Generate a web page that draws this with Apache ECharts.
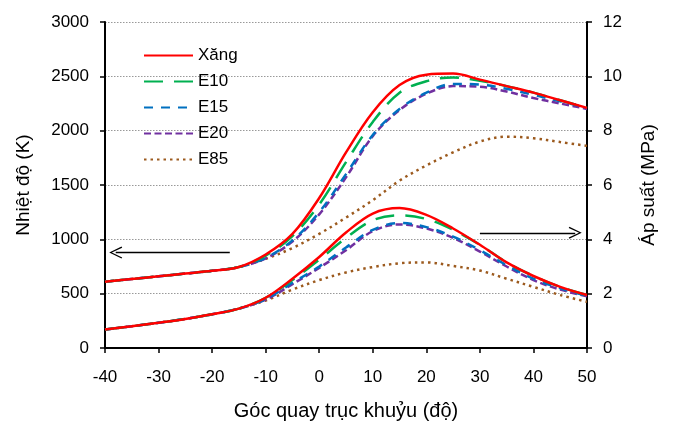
<!DOCTYPE html>
<html>
<head>
<meta charset="utf-8">
<script src="https://cdn.jsdelivr.net/npm/echarts@6/dist/echarts.min.js"></script>
<style>
  html, body { margin: 0; padding: 0; background: #fff; }
  #chart { width: 674px; height: 426px; }
</style>
</head>
<body>
<div id="chart"></div>
<script>
// crank angle (deg)
const angles = [-40, -35, -30, -25, -20, -15, -10, -5, 0, 5, 10, 15, 20, 25, 30, 35, 40, 45, 50];
const names = ['Xăng', 'E10', 'E15', 'E20', 'E85'];

// temperature (K)
const tXang = [610, 635, 660, 685, 710, 745, 860, 1050, 1380, 1800, 2170, 2420, 2515, 2525, 2470, 2410, 2350, 2280, 2210];
const tE10  = [610, 635, 660, 685, 710, 745, 850, 1030, 1320, 1710, 2080, 2350, 2455, 2490, 2460, 2410, 2350, 2280, 2210];
const tE15  = [610, 635, 660, 685, 710, 745, 830, 990, 1250, 1600, 1960, 2200, 2350, 2430, 2425, 2385, 2330, 2270, 2210];
const tE20  = [610, 635, 660, 685, 710, 745, 825, 980, 1230, 1570, 1950, 2190, 2340, 2410, 2405, 2360, 2300, 2250, 2200];
const tE85  = [610, 635, 660, 685, 710, 745, 820, 920, 1050, 1200, 1360, 1540, 1680, 1800, 1900, 1945, 1930, 1895, 1860];

// pressure (MPa)
const pXang = [0.68, 0.8, 0.93, 1.07, 1.24, 1.45, 1.85, 2.55, 3.35, 4.25, 4.95, 5.15, 4.9, 4.4, 3.8, 3.15, 2.65, 2.25, 1.95];
const pE10  = [0.68, 0.8, 0.93, 1.07, 1.24, 1.45, 1.85, 2.5, 3.25, 4.05, 4.7, 4.88, 4.75, 4.35, 3.8, 3.15, 2.65, 2.25, 1.95];
const pE15  = [0.68, 0.8, 0.93, 1.07, 1.24, 1.45, 1.8, 2.4, 3.0, 3.7, 4.35, 4.6, 4.45, 4.1, 3.6, 3.05, 2.55, 2.2, 1.92];
const pE20  = [0.68, 0.8, 0.93, 1.07, 1.24, 1.45, 1.78, 2.35, 2.95, 3.6, 4.3, 4.55, 4.4, 4.05, 3.55, 3.0, 2.5, 2.15, 1.9];
const pE85  = [0.68, 0.8, 0.93, 1.07, 1.24, 1.45, 1.75, 2.15, 2.5, 2.78, 2.98, 3.12, 3.15, 3.02, 2.85, 2.55, 2.25, 1.95, 1.7];

const xTicks = [-40, 50, 10];
const tTicks = [0, 3000, 500];
const pTicks = [0, 12, 2];

const colors = ['#ff0000', '#00b050', '#0070c0', '#7030a0', '#9c5a1e'];
const dashes = ['solid', [19, 11], [9, 8], [7, 3.5], [2.5, 4]];
const font = 'Liberation Sans, Arial, sans-serif';

const tempData = [tXang, tE10, tE15, tE20, tE85];
const presData = [pXang, pE10, pE15, pE20, pE85];

function pairs(vals) {
  return angles.map((a, i) => [a, vals[i]]);
}

function makeSeries(vals, i, axis) {
  return {
    name: names[i],
    type: 'line',
    yAxisIndex: axis,
    data: pairs(vals),
    smooth: 0.35,
    symbol: 'none',
    lineStyle: { color: colors[i], width: 2.5, type: dashes[i] },
    itemStyle: { color: colors[i] },
    z: 10 - i
  };
}

const chevron = 'path://M5,0 L10,11 L9,11.6 L5,2.4 L1,11.6 L0,11 Z';
const arrowStyle = {
  silent: true,
  symbol: ['none', chevron],
  symbolSize: [12, 13],
  label: { show: false },
  lineStyle: { color: '#000', width: 1.3, type: 'solid' }
};

let series = [];
tempData.forEach((v, i) => series.push(makeSeries(v, i, 0)));
presData.forEach((v, i) => series.push(makeSeries(v, i, 1)));

// arrows pointing to the axes
series[0].markLine = Object.assign({}, arrowStyle, {
  data: [[{ coord: [-16.7, 878] }, { coord: [-38, 878] }]]
});
series[5].markLine = Object.assign({}, arrowStyle, {
  data: [[{ coord: [30, 4.24] }, { coord: [47.8, 4.24] }]]
});

const plain = v => String(v);

const chart = echarts.init(document.getElementById('chart'));
chart.setOption({
  animation: false,
  textStyle: { fontFamily: font, color: '#000' },
  grid: { left: 105, right: 87, top: 22, bottom: 76 },
  legend: {
    data: names,
    orient: 'vertical',
    left: 138,
    top: 42,
    itemWidth: 49,
    itemHeight: 14,
    itemGap: 9,
    itemStyle: { opacity: 0 },
    textStyle: { fontSize: 17, color: '#000', fontFamily: font }
  },
  xAxis: {
    type: 'value',
    min: xTicks[0], max: xTicks[1], interval: xTicks[2],
    name: 'Góc quay trục khuỷu (độ)',
    nameLocation: 'middle',
    nameGap: 53,
    nameTextStyle: { fontSize: 20, color: '#000' },
    axisLine: { onZero: false, lineStyle: { color: '#000', width: 2 } },
    axisTick: { lineStyle: { color: '#000', width: 1.5 }, length: 5 },
    axisLabel: { fontSize: 17, color: '#000', margin: 21, formatter: plain },
    splitLine: { show: false }
  },
  yAxis: [{
    type: 'value',
    min: tTicks[0], max: tTicks[1], interval: tTicks[2],
    name: 'Nhiệt độ (K)',
    nameLocation: 'middle',
    nameRotate: 90,
    nameGap: 72,
    nameTextStyle: { fontSize: 19, color: '#000' },
    axisLine: { show: true, onZero: false, lineStyle: { color: '#000', width: 2 } },
    axisTick: { show: true, lineStyle: { color: '#000', width: 1.5 }, length: 5 },
    axisLabel: { fontSize: 17, color: '#000', margin: 16, formatter: plain },
    splitLine: { show: true, lineStyle: { color: '#999', width: 1, type: [1.5, 1.5] } }
  }, {
    type: 'value',
    min: pTicks[0], max: pTicks[1], interval: pTicks[2],
    name: 'Áp suất (MPa)',
    nameLocation: 'middle',
    nameRotate: 90,
    nameGap: 52,
    nameTextStyle: { fontSize: 19, color: '#000' },
    axisLine: { show: true, onZero: false, lineStyle: { color: '#000', width: 2 } },
    axisTick: { show: true, lineStyle: { color: '#000', width: 1.5 }, length: 5 },
    axisLabel: { fontSize: 17, color: '#000', margin: 16, formatter: plain },
    splitLine: { show: false }
  }],
  series: series
});
</script>
</body>
</html>
